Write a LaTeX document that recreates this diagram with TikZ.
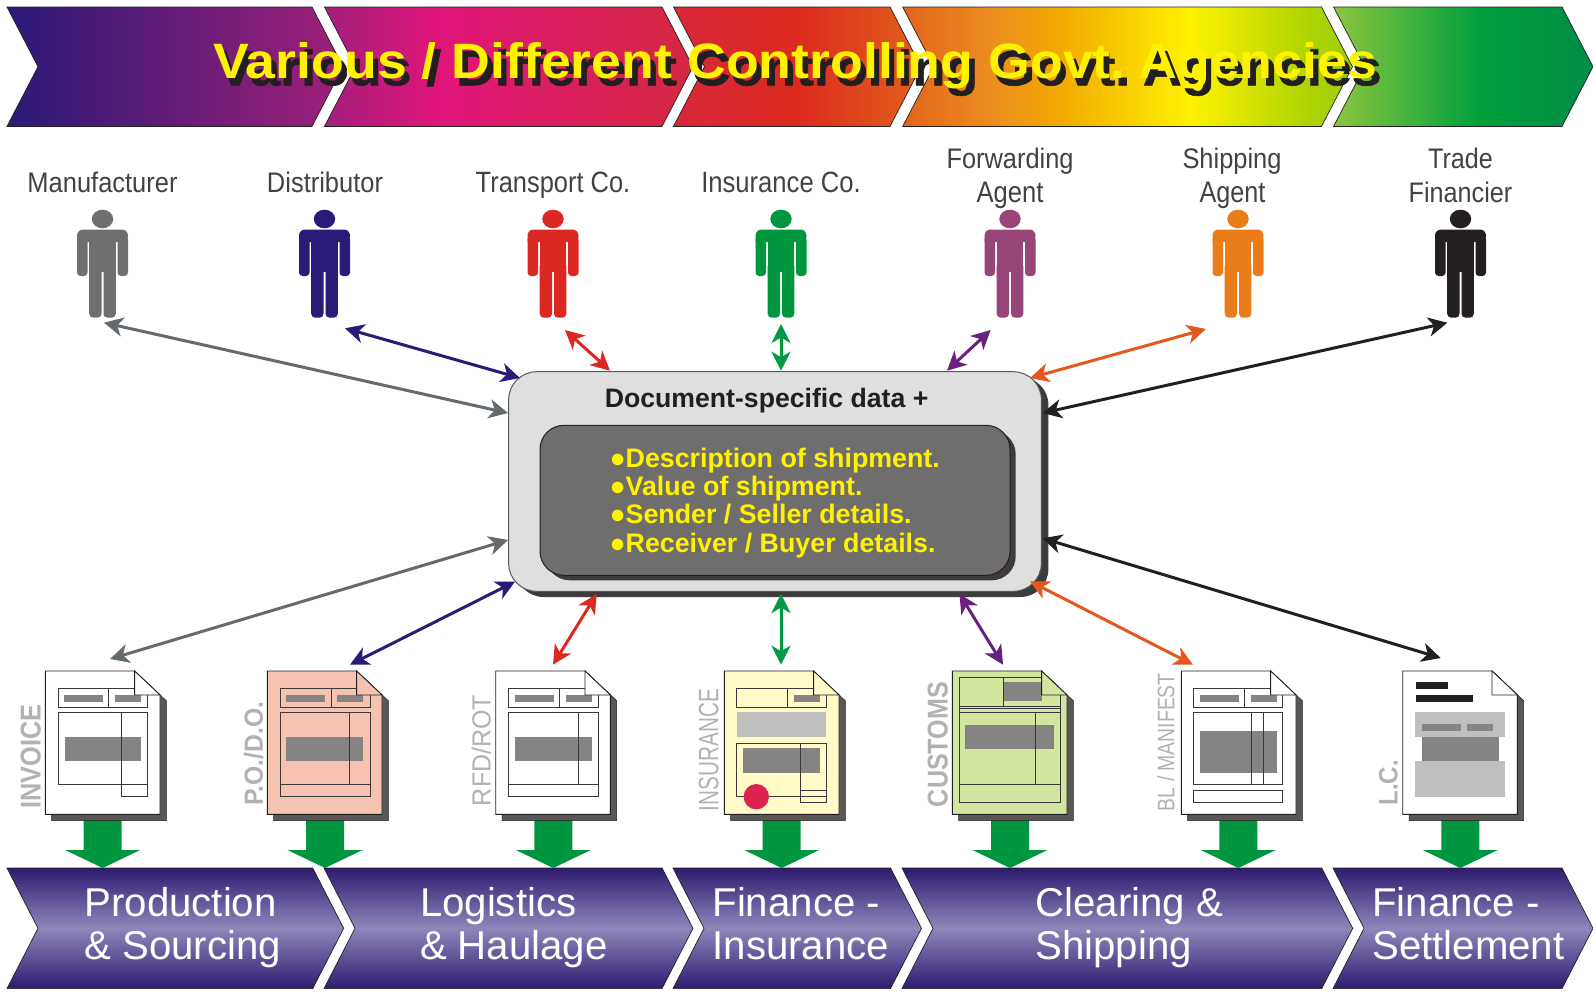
\documentclass[tikz,border=0pt]{standalone}
\usepackage{fontspec}
\usepackage{graphicx}
\setmainfont{Liberation Sans}
\newfontfamily\shadowfam[BoldFeatures={FakeBold=1.2}]{Liberation Sans}
\usetikzlibrary{arrows.meta}
% colours
\definecolor{inkc}{HTML}{231F20}
\definecolor{grayc}{HTML}{646B6E}
\definecolor{bluec}{HTML}{2B1A78}
\definecolor{redc}{HTML}{DC2822}
\definecolor{greenc}{HTML}{009A44}
\definecolor{purplec}{HTML}{6A2080}
\definecolor{orangec}{HTML}{E4581E}
\definecolor{blockg}{HTML}{009640}
\definecolor{sidec}{HTML}{B2B2B2}
\definecolor{shadowc}{HTML}{5A5857}
\definecolor{fillgray}{HTML}{858483}
\definecolor{filllight}{HTML}{BFBFBF}
\definecolor{docline}{HTML}{3A3838}
\definecolor{titley}{HTML}{FFF200}
\definecolor{personm}{HTML}{706F6F}
\definecolor{personf}{HTML}{984578}
\definecolor{persons}{HTML}{E87D1A}
\definecolor{pofill}{HTML}{F5C3B0}
\definecolor{insfill}{HTML}{FFFAC8}
\definecolor{cusfill}{HTML}{D2E6A0}
\definecolor{sealc}{HTML}{DC2350}
\definecolor{hubfill}{HTML}{DEDFDE}
\definecolor{innerfill}{HTML}{6F6E6D}
\definecolor{hubshadow}{HTML}{3D3B3B}
\definecolor{aa}{HTML}{2A1A78}\definecolor{ab}{HTML}{A01F78}
\definecolor{ba}{HTML}{A31F7C}\definecolor{bb}{HTML}{E0157A}\definecolor{bc}{HTML}{D4283F}
\definecolor{ca}{HTML}{D8283A}\definecolor{cb}{HTML}{DC2A1E}\definecolor{cc}{HTML}{E2611C}
\definecolor{da}{HTML}{E2641C}\definecolor{db}{HTML}{EC8E20}\definecolor{dc}{HTML}{F2AA00}\definecolor{dd}{HTML}{FFF200}\definecolor{de}{HTML}{AED400}\definecolor{df}{HTML}{9CCC10}
\definecolor{ea}{HTML}{8CC63F}\definecolor{eb}{HTML}{00A03C}\definecolor{ec}{HTML}{008C48}
\definecolor{va}{HTML}{2E1B70}\definecolor{vb}{HTML}{8F86BB}
% shadings (the inner 25bp..75bp range spans the shape)
\pgfdeclarehorizontalshading{topa}{100bp}{color(0bp)=(aa);color(25bp)=(aa);color(75bp)=(ab);color(100bp)=(ab)}
\pgfdeclarehorizontalshading{topb}{100bp}{color(0bp)=(ba);color(25bp)=(ba);color(40.5bp)=(bb);color(75bp)=(bc);color(100bp)=(bc)}
\pgfdeclarehorizontalshading{topc}{100bp}{color(0bp)=(ca);color(25bp)=(ca);color(50bp)=(cb);color(75bp)=(cc);color(100bp)=(cc)}
\pgfdeclarehorizontalshading{topd}{100bp}{color(0bp)=(da);color(25bp)=(da);color(35bp)=(db);color(42.5bp)=(dc);color(57bp)=(dd);color(70bp)=(de);color(75bp)=(df);color(100bp)=(df)}
\pgfdeclarehorizontalshading{tope}{100bp}{color(0bp)=(ea);color(25bp)=(ea);color(53bp)=(eb);color(75bp)=(ec);color(100bp)=(ec)}
\pgfdeclareverticalshading{botv}{100bp}{color(0bp)=(va);color(25bp)=(va);color(50bp)=(vb);color(75bp)=(va);color(100bp)=(va)}
\tikzset{
  chev/.style={draw=inkc,line width=0.7pt,shade,shading=#1},
  conn/.style={draw=#1,line width=3pt,{Stealth[length=19pt,width=19pt,inset=5.5pt]}-{Stealth[length=19pt,width=19pt,inset=5.5pt]}},
  txt/.style={inner sep=0pt,outer sep=0pt},
  bandtxt/.style={txt,anchor=base west,text=white,font=\fontsize{40.2}{43}\selectfont},
  plabel/.style={txt,anchor=base,text=inkc!85!white},
  sidelabel/.style={txt,anchor=base west,rotate=90,text=sidec},
  listtxt/.style={txt,anchor=base west,text=titley,font=\fontsize{26.8}{28}\selectfont\bfseries},
  dline/.style={draw=docline,line width=0.8pt},
  dgray/.style={fill=fillgray},
  dlight/.style={fill=filllight},
  dblack/.style={fill=inkc},
}
\newcommand{\lab}[2]{\resizebox{#1pt}{20.5pt}{#2}}
\newcommand{\side}[3]{\resizebox{#1pt}{#2pt}{#3}}
\newcommand{\titletext}{Various / Different Controlling Govt.\kern-0.133em{} Agencies}
\newcommand{\band}[5]{\path[chev=#1] (#2,#4) -- (#3,#4) -- (#3+31,#5) -- (#3,2*#5-#4) -- (#2,2*#5-#4) -- (#2+31,#5) -- cycle;}
\newcommand{\personfig}[2]{%
  \begin{scope}[shift={(#1,0)}]
    \fill[#2] (0,219) ellipse [x radius=10.7,y radius=9.3];
    \fill[#2,rounded corners=6pt] (-25.5,242) -- (-25.5,229.5) -- (25.5,229.5) -- (25.5,242) [sharp corners] -- cycle;
    \fill[#2,rounded corners=3.5pt] (-25.5,236) rectangle (-15,276);
    \fill[#2,rounded corners=3.5pt] (15,236) rectangle (25.5,276);
    \fill[#2] (-13.3,232) rectangle (13.3,272);
    \fill[#2,rounded corners=4pt] (-13.3,262) rectangle (-1,317.7);
    \fill[#2,rounded corners=4pt] (1,262) rectangle (13.3,317.7);
  \end{scope}}
\newcommand{\blockarrow}[1]{%
  \fill[blockg] (#1-19,820) -- (#1+19,820) -- (#1+19,850) -- (#1+37.5,850) -- (#1,868) -- (#1-37.5,850) -- (#1-19,850) -- cycle;}
\newcommand{\docsheet}[3]{%
  \begin{scope}[shift={(#1,671)}]
    \fill[shadowc,draw=inkc,line width=0.5pt] (89.3,0) -- (121,29.7) -- (121,149.7) -- (6.3,149.7) -- (6.3,143) -- cycle;
    \path[fill=#2,draw=inkc,line width=0.9pt] (0,0) -- (89.3,0) -- (114.7,24) -- (114.7,143.3) -- (0,143.3) -- cycle;
    #3
    \path[fill=#2,draw=inkc,line width=0.8pt] (89.3,0) -- (89.3,24) -- (114.7,24) -- cycle;
  \end{scope}}
\begin{document}
\begin{tikzpicture}[x=1pt,y=-1pt]
\useasboundingbox (0,0) rectangle (1593,991);
\fill[white] (0,0) rectangle (1593,991);
% top bands
\band{topa}{7}{312}{7}{66.7}
\band{topb}{324.5}{662}{7}{66.7}
\band{topc}{673.5}{890}{7}{66.7}
\band{topd}{902.7}{1321.5}{7}{66.7}
\band{tope}{1333.6}{1562}{7}{66.7}
\node[txt,anchor=base west,text=inkc,font=\shadowfam\fontsize{50}{52}\selectfont\bfseries] (titleshadow) at (217.5,85.3) {\resizebox{1164pt}{36pt}{\titletext}};
\node[txt,anchor=base west,text=titley,font=\fontsize{50}{52}\selectfont\bfseries] (title) at (213,78.8) {\resizebox{1164pt}{36pt}{\titletext}};
% people labels
\node[plabel] (lman) at (102.5,192.2) {\lab{150}{Manufacturer}};
\node[plabel] (ldis) at (325,192.2) {\lab{116}{Distributor}};
\node[plabel] (ltra) at (553,192.2) {\lab{154.5}{Transport Co.}};
\node[plabel] (lins) at (781,192.2) {\lab{159.5}{Insurance Co.}};
\node[plabel] (lfor) at (1010,168.2) {\lab{127}{Forwarding}};
\node[plabel] (lfora) at (1010,202.2) {\lab{66.8}{Agent}};
\node[plabel] (lshi) at (1232,168.2) {\lab{99}{Shipping}};
\node[plabel] (lshia) at (1232.5,202.2) {\lab{65.8}{Agent}};
\node[plabel] (ltrd) at (1460.5,168.2) {\lab{64.7}{Trade}};
\node[plabel] (ltrda) at (1460.5,202.2) {\lab{103.7}{Financier}};
% people
\personfig{102.5}{personm}
\personfig{324.5}{bluec}
\personfig{553}{redc}
\personfig{781}{blockg}
\personfig{1010}{personf}
\personfig{1238}{persons}
\personfig{1460.5}{inkc}
% central box
\fill[hubshadow,rounded corners=28pt] (515.7,377) rectangle (1048.4,597);
\node[draw=black!65,line width=1pt,fill=hubfill,rounded corners=28pt,minimum width=532.7pt,minimum height=219.6pt,inner sep=0pt] (hub) at (775,481.5) {};
\fill[hubshadow,rounded corners=24pt] (545.7,430.3) rectangle (1015.7,580.3);
\node[draw=inkc,line width=1pt,fill=innerfill,rounded corners=24pt,minimum width=470pt,minimum height=150pt,inner sep=0pt] (inner) at (775,500.3) {};
\node[txt,anchor=base west,text=inkc,font=\fontsize{26.65}{28}\selectfont\bfseries] (hubtitle) at (604.8,407.7) {Document-specific data +};
\node[listtxt] (li1) at (609.5,467.7) {●Description of shipment.};
\node[listtxt] (li2) at (609.5,495.5) {●Value of shipment.};
\node[listtxt] (li3) at (609.5,523.7) {●Sender / Seller details.};
\node[listtxt] (li4) at (609.5,552.7) {●Receiver / Buyer details.};
% connector ends
\coordinate (pa) at (104,322.7);   \coordinate (ha) at (508,413);
\coordinate (pb) at (345,328.3);   \coordinate (hb) at (520,378);
\coordinate (pc) at (565,330);     \coordinate (hc) at (610,370.7);
\coordinate (pd) at (781,324);     \coordinate (hd) at (781,370.7);
\coordinate (pe) at (990.7,330);   \coordinate (he) at (947,370.7);
\coordinate (pf) at (1206,329);    \coordinate (hf) at (1030,378);
\coordinate (pg) at (1447.4,322.7);\coordinate (hg) at (1042.6,413);
\coordinate (da) at (110,659);     \coordinate (ka) at (508,540);
\coordinate (db) at (350,664.7);   \coordinate (kb) at (515,581.7);
\coordinate (dc) at (553,664.7);   \coordinate (kc) at (596.7,594);
\coordinate (dd) at (781,664.7);   \coordinate (kd) at (781,594);
\coordinate (de) at (1003,664.7);  \coordinate (ke) at (959.5,594);
\coordinate (df) at (1193,664.7);  \coordinate (kf) at (1030,581.3);
\coordinate (dg) at (1440.7,658);  \coordinate (kg) at (1042.6,538.3);
\draw[conn=grayc] (pa) -- (ha);
\draw[conn=bluec] (pb) -- (hb);
\draw[conn=redc] (pc) -- (hc);
\draw[conn=greenc] (pd) -- (hd);
\draw[conn=purplec] (pe) -- (he);
\draw[conn=orangec] (pf) -- (hf);
\draw[conn=inkc] (pg) -- (hg);
\draw[conn=grayc] (da) -- (ka);
\draw[conn=bluec] (db) -- (kb);
\draw[conn=redc] (dc) -- (kc);
\draw[conn=greenc] (dd) -- (kd);
\draw[conn=purplec] (de) -- (ke);
\draw[conn=orangec] (df) -- (kf);
\draw[conn=inkc] (dg) -- (kg);
% bottom bands
\band{botv}{7}{312.7}{868}{928.3}
\band{botv}{324}{662}{868}{928.3}
\band{botv}{673}{890.5}{868}{928.3}
\band{botv}{902}{1321.7}{868}{928.3}
\band{botv}{1333}{1562}{868}{928.3}
\node[bandtxt] (b1a) at (84.5,916) {Production};
\node[bandtxt] (b1b) at (84.5,959) {\& Sourcing};
\node[bandtxt] (b2a) at (420,916) {Logistics};
\node[bandtxt] (b2b) at (420,959) {\& Haulage};
\node[bandtxt] (b3a) at (712.5,916) {Finance -};
\node[bandtxt] (b3b) at (712.5,959) {Insurance};
\node[bandtxt] (b4a) at (1035.5,916) {Clearing \&};
\node[bandtxt] (b4b) at (1035.5,959) {Shipping};
\node[bandtxt] (b5a) at (1372.2,916) {Finance -};
\node[bandtxt] (b5b) at (1372.2,959) {Settlement};
% green block arrows
\blockarrow{102.7}\blockarrow{325}\blockarrow{553.3}\blockarrow{781.7}\blockarrow{1010}\blockarrow{1238.3}\blockarrow{1460.3}
% documents
\docsheet{45.3}{white}{
  \fill[dgray] (18.7,24) rectangle (57.7,31);
  \fill[dgray] (69.7,24) rectangle (95.7,31);
  \fill[dgray] (19.7,66) rectangle (95.7,89.7);
  \draw[dline] (13,17.7) rectangle (63.3,36.3);
  \draw[dline] (63.3,17.7) rectangle (101.7,36.3);
  \draw[dline] (13,41.3) rectangle (101.7,113.7);
  \draw[dline] (76.3,41.3) rectangle (101.7,125.7);
}
\docsheet{267.3}{pofill}{
  \fill[dgray] (18.7,24) rectangle (57.7,31);
  \fill[dgray] (69.7,24) rectangle (95.7,31);
  \fill[dgray] (18.7,66) rectangle (95.7,89.7);
  \draw[dline] (12.7,17.7) rectangle (63.7,36.3);
  \draw[dline] (63.7,17.7) rectangle (102.7,36.3);
  \draw[dline] (12.7,41.3) rectangle (102.7,125.7);
  \draw[dline] (12.7,113.7) -- (102.7,113.7);
  \draw[dline] (82.3,41.3) -- (82.3,113.7);
}
\docsheet{495.7}{white}{
  \fill[dgray] (19,24) rectangle (58,31);
  \fill[dgray] (70,24) rectangle (96,31);
  \fill[dgray] (19,66) rectangle (96,89.7);
  \draw[dline] (12.7,17.7) rectangle (63.7,36.3);
  \draw[dline] (63.7,17.7) rectangle (102.7,36.3);
  \draw[dline] (12.7,41.3) rectangle (102.7,125.7);
  \draw[dline] (12.7,113.7) -- (102.7,113.7);
  \draw[dline] (82.7,41.3) -- (82.7,113.7);
}
\docsheet{724.3}{insfill}{
  \fill[dgray] (69.7,24) rectangle (95.7,31);
  \fill[dlight] (12.7,41) rectangle (101.7,66);
  \fill[dgray] (18.7,77) rectangle (95.7,102);
  \draw[dline] (12.3,17.7) rectangle (63.3,36.3);
  \draw[dline] (63.3,17.7) rectangle (101.7,36.3);
  \draw[dline] (12.3,72) rectangle (101.7,125.7);
  \draw[dline] (76.3,72) rectangle (101.7,131.7);
  \draw[dline] (76.3,119.7) -- (101.7,119.7);
  \fill[sealc] (32,125.7) circle [radius=12.7];
}
\docsheet{952.3}{cusfill}{
  \fill[dgray] (51,11) rectangle (89.7,30);
  \fill[dgray] (12.7,54) rectangle (101.7,78);
  \draw[dline] (89.3,6) -- (6.7,6) -- (6.7,131.7) -- (108.3,131.7) -- (108.3,24);
  \draw[dline] (6.7,35.7) -- (108.3,35.7);
  \draw[dline] (6.7,36.9) -- (108.3,36.9);
  \draw[dline] (51,6) -- (51,35.7);
  \draw[dline] (6.7,41.3) -- (108.3,41.3);
  \draw[dline] (83,41.3) -- (83,113.7);
  \draw[dline] (6.7,113.7) -- (108.3,113.7);
}
\docsheet{1181.3}{white}{
  \fill[dgray] (18.7,24) rectangle (57.7,31);
  \fill[dgray] (69.7,24) rectangle (95.7,31);
  \fill[dgray] (18.7,60) rectangle (95.7,102);
  \draw[dline] (12.3,17.7) rectangle (63,36.3);
  \draw[dline] (63,17.7) rectangle (101.3,36.3);
  \draw[dline] (12.3,41.3) rectangle (101.3,113.7);
  \draw[dline] (70,41.3) -- (70,113.7);
  \draw[dline] (82,41.3) -- (82,113.7);
  \draw[dline] (12.3,119.7) rectangle (101.3,131.7);
}
\docsheet{1402.7}{white}{
  \fill[dblack] (13.3,11) rectangle (45.3,18);
  \fill[dblack] (13.3,24) rectangle (70.3,31);
  \fill[dlight] (12.3,41) rectangle (102.3,66);
  \fill[dgray] (19.3,53) rectangle (58.3,60);
  \fill[dgray] (64.3,53) rectangle (90.3,60);
  \fill[dgray] (19.3,66) rectangle (96.3,90);
  \fill[dlight] (12.3,90) rectangle (102.3,125.7);
}
% document side labels
\node[sidelabel] (s1) at (40.7,808.5) {\side{104}{20}{\bfseries INVOICE}};
\node[sidelabel] (s2) at (262.8,805.5) {\side{104}{19}{\bfseries P.O./D.O.}};
\node[sidelabel] (s3) at (490.7,806) {\side{111}{19}{RFD/ROT}};
\node[sidelabel] (s4) at (718.3,811) {\side{122}{19.6}{INSURANCE}};
\node[sidelabel] (s5) at (947.7,807) {\side{125}{20}{\bfseries CUSTOMS}};
\node[sidelabel] (s6) at (1174.3,811) {\side{137.7}{17.3}{BL / MANIFEST}};
\node[sidelabel] (s7) at (1397.7,805.5) {\side{45.7}{18.7}{\bfseries L.C.}};
\end{tikzpicture}
\end{document}
